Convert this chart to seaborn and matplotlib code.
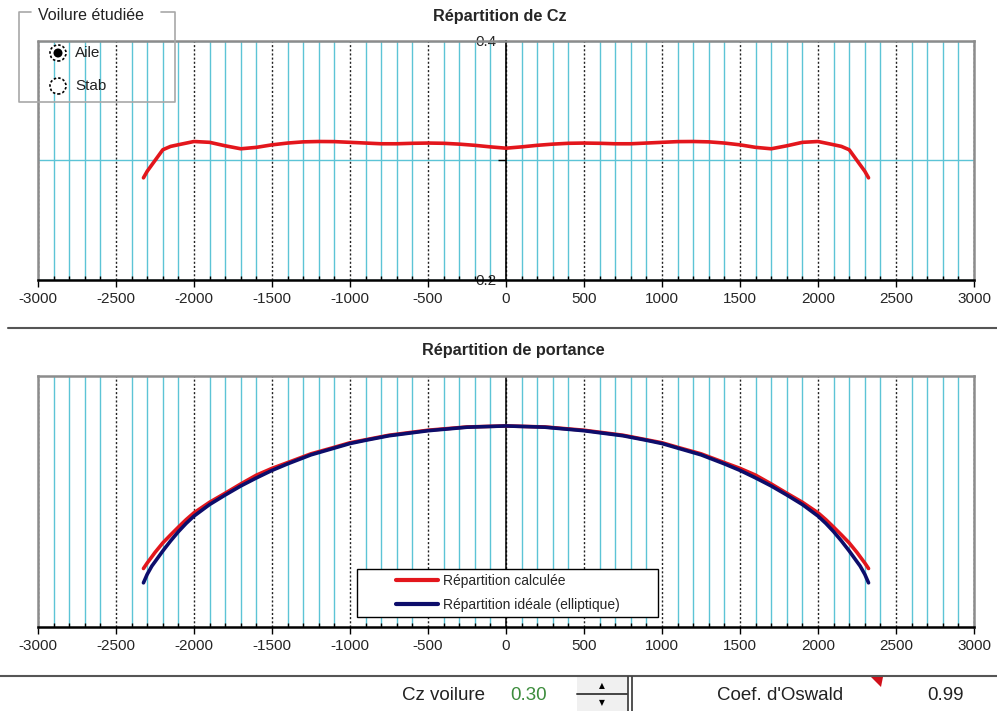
import matplotlib
matplotlib.use("Agg")
import matplotlib.pyplot as plt
import seaborn as sns
import pandas as pd
from matplotlib.lines import Line2D
from matplotlib.patches import Rectangle, Circle, Polygon

# ---------------- data ----------------
span_cz = [-2324, -2300, -2250, -2200, -2150, -2100, -2000, -1900, -1800, -1700, -1600,
           -1500, -1400, -1300, -1200, -1100, -1000, -900, -800, -700, -600, -500,
           -400, -300, -200, -100, 0, 100, 200, 300, 400, 500, 600, 700, 800, 900,
           1000, 1100, 1200, 1300, 1400, 1500, 1600, 1700, 1800, 1900, 2000, 2100,
           2150, 2200, 2250, 2300, 2324]
cz_values = [0.2855, 0.2910, 0.3000, 0.3090, 0.3118, 0.3132, 0.3159, 0.3152, 0.3123,
             0.3098, 0.3110, 0.3131, 0.3146, 0.3156, 0.3159, 0.3158, 0.3152, 0.3146,
             0.3140, 0.3140, 0.3144, 0.3146, 0.3144, 0.3137, 0.3127, 0.3114, 0.3103,
             0.3114, 0.3127, 0.3137, 0.3144, 0.3146, 0.3144, 0.3140, 0.3140, 0.3146,
             0.3152, 0.3158, 0.3159, 0.3156, 0.3146, 0.3131, 0.3110, 0.3098, 0.3123,
             0.3152, 0.3159, 0.3132, 0.3118, 0.3090, 0.3000, 0.2910, 0.2855]

span_lift = [-2324, -2300, -2270, -2250, -2200, -2150, -2100, -2050, -2000, -1900, -1800,
             -1700, -1600, -1500, -1400, -1250, -1100, -1000, -900, -750, -500, -250, 0,
             250, 500, 750, 900, 1000, 1100, 1250, 1400, 1500, 1600, 1700, 1800, 1900,
             2000, 2050, 2100, 2150, 2200, 2250, 2270, 2300, 2324]
lift_calc = [0.233, 0.255, 0.280, 0.297, 0.335, 0.367, 0.398, 0.428, 0.455, 0.497, 0.533,
             0.570, 0.605, 0.632, 0.655, 0.690, 0.716, 0.734, 0.746, 0.764, 0.784, 0.797,
             0.801,
             0.797, 0.784, 0.764, 0.746, 0.734, 0.716, 0.690, 0.655, 0.632, 0.605, 0.570,
             0.533, 0.497, 0.455, 0.428, 0.398, 0.367, 0.335, 0.297, 0.280, 0.255, 0.233]
lift_ideal = [0.176, 0.210, 0.243, 0.260, 0.303, 0.343, 0.380, 0.413, 0.442, 0.488, 0.526,
              0.562, 0.594, 0.624, 0.650, 0.686, 0.713, 0.731, 0.744, 0.762, 0.782, 0.796,
              0.801,
              0.796, 0.782, 0.762, 0.744, 0.731, 0.713, 0.686, 0.650, 0.624, 0.594, 0.562,
              0.526, 0.488, 0.442, 0.413, 0.380, 0.343, 0.303, 0.260, 0.243, 0.210, 0.176]

x_ticks = [-3000, -2500, -2000, -1500, -1000, -500, 0, 500, 1000, 1500, 2000, 2500, 3000]
cz_ticks = [0.2, 0.3, 0.4]
cz_tick_labels = ["0.2", "", "0.4"]

title_top = "Répartition de Cz"
title_bottom = "Répartition de portance"
legend_labels = ["Répartition calculée", "Répartition idéale (elliptique)"]
group_title = "Voilure étudiée"
radio_labels = ["Aile", "Stab"]
cz_voilure = "0.30"
oswald = "0.99"

# ---------------- style ----------------
sns.set_theme(style="white")
plt.rcParams["font.family"] = ["Liberation Sans", "DejaVu Sans"]

CYAN = "#5cc4d6"
RED = "#e3161c"
NAVY = "#0d0d6b"
FRAME = "#8c8c8c"

W, H = 997, 711
fig = plt.figure(figsize=(W / 100, H / 100), dpi=100)
fig.patch.set_facecolor("white")


def fpos(left, top, right, bottom):
    return [left / W, 1 - bottom / H, (right - left) / W, (bottom - top) / H]


ax1 = fig.add_axes(fpos(38, 41, 974, 280))
ax2 = fig.add_axes(fpos(38, 376, 974, 627))


def style_x(ax):
    ax.set_xlim(-3000, 3000)
    ax.set_xticks(x_ticks)
    ax.set_xticklabels([str(t) for t in x_ticks], fontsize=11)
    ax.set_xticks(range(-2900, 3000, 100), minor=True)
    ax.grid(False)
    ax.grid(which="minor", axis="x", color=CYAN, lw=1.0)
    ax.grid(which="major", axis="x", color="#222222", lw=1.0, linestyle=(0, (1.5, 1.5)))
    ax.tick_params(axis="x", which="major", direction="out", length=5, width=1,
                   color="black", pad=4, bottom=True)
    ax.tick_params(axis="x", which="minor", direction="in", length=3, width=1,
                   color="black", bottom=True)
    for s in ["top", "right", "left"]:
        ax.spines[s].set_color(FRAME)
        ax.spines[s].set_linewidth(1.8)
    ax.spines["bottom"].set_color("black")
    ax.spines["bottom"].set_linewidth(1.8)
    ax.set_axisbelow(True)


# ---- top chart: Cz ----
df_cz = pd.DataFrame({"span": span_cz, "cz": cz_values})
sns.lineplot(data=df_cz, x="span", y="cz", ax=ax1, color=RED, lw=2.6,
             estimator=None, sort=False)
style_x(ax1)
ax1.set_ylim(0.2, 0.4)
ax1.set_yticks(cz_ticks)
ax1.set_yticklabels(cz_tick_labels, fontsize=11)
ax1.grid(which="major", axis="y", color=CYAN, lw=1.0)
ax1.spines["left"].set_position(("data", 0))
ax1.spines["left"].set_color("black")
ax1.spines["left"].set_linewidth(1.2)
ax1.spines["left"].set_zorder(1.5)
ax1.tick_params(axis="y", direction="out", length=6, width=1, color="black", pad=1, left=True)
ax1.axvline(-3000, color=FRAME, lw=1.8, clip_on=False)
ax1.set_xlabel("")
ax1.set_ylabel("")

# ---- bottom chart: lift ----
df_lift = pd.DataFrame({
    "span": span_lift * 2,
    "lift": lift_calc + lift_ideal,
    "serie": [legend_labels[0]] * len(span_lift) + [legend_labels[1]] * len(span_lift),
})
style_x(ax2)
ax2.axvline(0, color="black", lw=1.1, zorder=1.2)
sns.lineplot(data=df_lift, x="span", y="lift", hue="serie", ax=ax2,
             palette=[RED, NAVY], lw=2.6, estimator=None, sort=False)
ax2.set_ylim(0, 1.0)
ax2.set_yticks([])
ax2.set_xlabel("")
ax2.set_ylabel("")

# legend box (Excel-like wide frame)
box = (0.341, 0.040, 0.3216, 0.191)
ax2.add_patch(Rectangle((box[0], box[1]), box[2], box[3], transform=ax2.transAxes,
                        facecolor="white", edgecolor="black", lw=1.0, zorder=5))
leg = ax2.legend(loc="center", bbox_to_anchor=box, fontsize=10, frameon=False,
                 handlelength=3.0, handletextpad=0.35, labelspacing=0.7,
                 borderpad=0.2)
leg.set_zorder(6)
for h in leg.get_lines():
    h.set_linewidth(3)

# ---- titles ----
fig.text(500 / W, 1 - 16 / H, title_top, ha="center", va="center",
         fontsize=11.7, fontweight="bold")
fig.text(513 / W, 1 - 350 / H, title_bottom, ha="center", va="center",
         fontsize=11.7, fontweight="bold")

# ---- figure decorations (pixel coordinates) ----
T = fig.dpi_scale_trans


def P(x, y):
    return (x / 100, (H - y) / 100)


def fline(pts, **kw):
    xs = [P(x, y)[0] for x, y in pts]
    ys = [P(x, y)[1] for x, y in pts]
    fig.add_artist(Line2D(xs, ys, transform=T, **kw))


# separators
fline([(8, 328), (997, 328)], color="#555555", lw=1.5)
fline([(0, 676), (997, 676)], color="#555555", lw=1.5)

# group box
fline([(31, 12), (19, 12), (19, 102), (175, 102), (175, 12), (161, 12)], color="#a8a8a8", lw=1.2)
fig.text(38 / W, 1 - 16 / H, group_title, ha="left", va="center", fontsize=11.5, color="#222222")
for i, lab in enumerate(radio_labels):
    cy = 53 + 33 * i
    fig.add_artist(Circle(P(58, cy), 0.08, transform=T, facecolor="white",
                          edgecolor="black", lw=1.2, linestyle=(0, (1.5, 1.2))))
    if i == 0:
        fig.add_artist(Circle(P(58, cy), 0.045, transform=T, facecolor="black",
                              edgecolor="none"))
    fig.text(75 / W, 1 - cy / H, lab, ha="left", va="center", fontsize=11, color="#222222")

# bottom strip
fig.text(402 / W, 1 - 696 / H, "Cz voilure", ha="left", va="center", fontsize=13.5, color="#222222")
fig.text(510 / W, 1 - 696 / H, cz_voilure, ha="left", va="center", fontsize=13.5, color="#3c8c3c")
fig.text(717 / W, 1 - 696 / H, "Coef. d'Oswald", ha="left", va="center", fontsize=13.5, color="#222222")
fig.text(927 / W, 1 - 696 / H, oswald, ha="left", va="center", fontsize=13.5, color="#222222")

fig.add_artist(Rectangle(P(577, 711), 0.50, 0.34, transform=T, facecolor="#f0f0f0",
                         edgecolor="none"))
fline([(577, 694), (627, 694)], color="#444444", lw=1.4)
fig.text(602 / W, 1 - 686 / H, "▲", ha="center", va="center", fontsize=5.5,
         family="DejaVu Sans", color="black")
fig.text(602 / W, 1 - 703 / H, "▼", ha="center", va="center", fontsize=5.5,
         family="DejaVu Sans", color="black")
fline([(628, 677), (628, 711)], color="#333333", lw=1.2)
fline([(631.5, 677), (631.5, 711)], color="#333333", lw=1.2)
fig.add_artist(Polygon([P(871, 677), P(883, 677), P(881, 687)], closed=True,
                       transform=T, facecolor="#d0101a", edgecolor="none"))

fig.savefig("out.png", dpi=100, facecolor="white")
